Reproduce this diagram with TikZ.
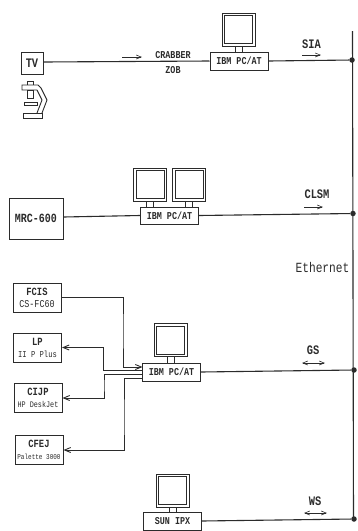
\documentclass[tikz,border=0pt]{standalone}
\usepackage{fontspec}
\newfontfamily\plotfont[FakeStretch=0.8]{Liberation Mono}
\usetikzlibrary{arrows.meta}
\definecolor{tinte}{HTML}{2B2B2B}
\newcommand{\plotsize}[1]{\fontsize{#1}{12}\selectfont}
\newcommand{\subline}[1]{\mdseries\plotsize{#1}}
\tikzset{
  box/.style={draw=tinte,line width=1pt,fill=white,inner sep=0pt,align=center,font=\plotfont\bfseries\plotsize{10.5},text=tinte},
  pcbox/.style={box,minimum width=58pt,minimum height=18pt},
  devbox/.style={box,minimum width=48pt,minimum height=29pt},
  monitor/.style={draw=tinte,line width=1pt,fill=white,minimum size=33pt,inner sep=0pt},
  netz/.style={tinte,line width=1.1pt},
  fein/.style={tinte,line width=0.9pt},
  flow/.style={-{Straight Barb[length=5pt,width=4pt]},tinte,line width=0.6pt},
  flowb/.style={{Straight Barb[length=5pt,width=4pt]}-{Straight Barb[length=5pt,width=4pt]},tinte,line width=0.6pt},
  tip/.style={-{Straight Barb[length=6pt,width=5pt]},fein},
  lab/.style={tinte,inner sep=0pt,font=\plotfont\bfseries\plotsize{13}},
  labs/.style={lab,font=\plotfont\bfseries\plotsize{10.5}},
  knoten/.style={circle,fill=tinte,minimum size=5.5pt,inner sep=0pt},
}
\begin{document}
\begin{tikzpicture}[x=1pt,y=-1pt]
  \useasboundingbox (0,0) rectangle (357,531);
  % Ethernet
  \coordinate (busTop) at (352.5,31);
  \coordinate (busEnd) at (353.5,520);
  \draw[netz] (busTop) -- (busEnd);
  \node[knoten] (dotA) at (352,60) {};
  \node[knoten] (dotB) at (353,213.5) {};
  \node[knoten] (dotC) at (354,370) {};
  \node[knoten] (dotD) at (354,519) {};
  \node[tinte,inner sep=0pt,font=\plotfont\plotsize{14}] (ether) at (322.5,267) {Ethernet};
  % Rechner
  \node[pcbox] (pcA) at (239,61) {IBM PC/AT};
  \node[pcbox,minimum height=17pt] (pcB) at (169.5,215.5) {IBM PC/AT};
  \node[pcbox] (pcC) at (171.5,372) {IBM PC/AT};
  \node[pcbox] (pcD) at (172.5,521) {SUN IPX};
  \node[monitor] (monA) at (238.5,29.5) {};
  \node[monitor] (monBa) at (150,184.5) {};
  \node[monitor] (monBb) at (189,184.5) {};
  \node[monitor] (monC) at (170.5,340) {};
  \node[monitor] (monD) at (172.5,490.5) {};
  \foreach \mon/\pc in {monA/pcA,monBa/pcB,monBb/pcB,monC/pcC,monD/pcD} {
    \draw[fein] ([xshift=3pt,yshift=-3pt]\mon.north west) rectangle ([xshift=-3pt,yshift=3pt]\mon.south east);
    \draw[fein] ([xshift=-3.5pt]\mon.south) -- ([xshift=-3.5pt]\mon.south |- \pc.north);
    \draw[fein] ([xshift=3.5pt]\mon.south) -- ([xshift=3.5pt]\mon.south |- \pc.north);
  }
  % Geraete
  \node[box,minimum size=22pt,font=\plotfont\bfseries\plotsize{13}] (tv) at (32,63) {TV};
  \node[box,minimum width=54pt,minimum height=41pt,font=\plotfont\bfseries\plotsize{12.5}] (mrc) at (36,218.5) {MRC-600};
  \node[devbox,font=\plotfont\bfseries\plotsize{11}] (fcis) at (37,297.5) {FCIS\\{\subline{10.5}CS-FC60}};
  \node[devbox,font=\plotfont\bfseries\plotsize{11}] (lp) at (37.5,347.5) {LP\\{\subline{9}II P Plus}};
  \node[devbox,font=\plotfont\bfseries\plotsize{11}] (cijp) at (38,398) {CIJP\\{\subline{8.5}HP DeskJet}};
  \node[devbox,font=\plotfont\bfseries\plotsize{11}] (cfej) at (39,450) {CFEJ\\{\subline{7.5}Palette 3000}};
  % Mikroskop
  \draw[fein] (27,85) -- (27,81) -- (33,81) -- (33,85);
  \draw[fein] (37,90) -- (22,90) -- (22,85) -- (38,85) -- (41,88) -- (47,100) -- (42,113);
  \draw[fein] (37,90) -- (42,100) -- (37,113);
  \draw[fein] (27,90) rectangle (33,98);
  \draw[fein] (24,102) rectangle (37,105);
  \draw[fein] (23,113) rectangle (42,118);
  % Verbindungen
  \draw[netz] ([yshift=1pt]tv.east) -- (pcA.west);
  \draw[netz] (pcA.east) -- (dotA);
  \draw[netz] ([yshift=1.5pt]mrc.east) -- (pcB.west);
  \draw[netz] (pcB.east) -- (dotB);
  \draw[netz] (pcC.east) -- (dotC);
  \draw[netz] (pcD.east) -- (dotD);
  \coordinate (inA) at (142.5,367);
  \coordinate (inB) at (142.5,370.5);
  \coordinate (inC) at (142.5,374);
  \coordinate (inD) at (142.5,378);
  \draw[tip] (fcis.east) -| (123,330) |- (inA);
  \draw[tip] (inB) -| (103.5,358) |- (lp.east);
  \draw[tip] (inC) -| (104,385) |- (cijp.east);
  \draw[tip] (inD) -| (124,420) |- (cfej.east);
  % Beschriftung
  \node[labs] (grab) at (173,55.5) {CRABBER};
  \node[labs] (zob) at (173,70) {ZOB};
  \node[lab] (sia) at (311.5,44.5) {SIA};
  \node[lab] (clsm) at (317,194) {CLSM};
  \node[lab] (gs) at (313,350) {GS};
  \node[lab] (ws) at (315,501.5) {WS};
  % Pfeile
  \coordinate (flowAa) at (122,57);
  \coordinate (flowAb) at (142,57);
  \draw[flow] (flowAa) -- (flowAb);
  \coordinate (flowBa) at (302,55);
  \coordinate (flowBb) at (321,55);
  \draw[flow] (flowBa) -- (flowBb);
  \coordinate (flowCa) at (304,207);
  \coordinate (flowCb) at (323,207);
  \draw[flow] (flowCa) -- (flowCb);
  \coordinate (flowDa) at (302,363);
  \coordinate (flowDb) at (325,363);
  \draw[flowb] (flowDa) -- (flowDb);
  \coordinate (flowEa) at (304,513);
  \coordinate (flowEb) at (327,513);
  \draw[flowb] (flowEa) -- (flowEb);
\end{tikzpicture}
\end{document}
